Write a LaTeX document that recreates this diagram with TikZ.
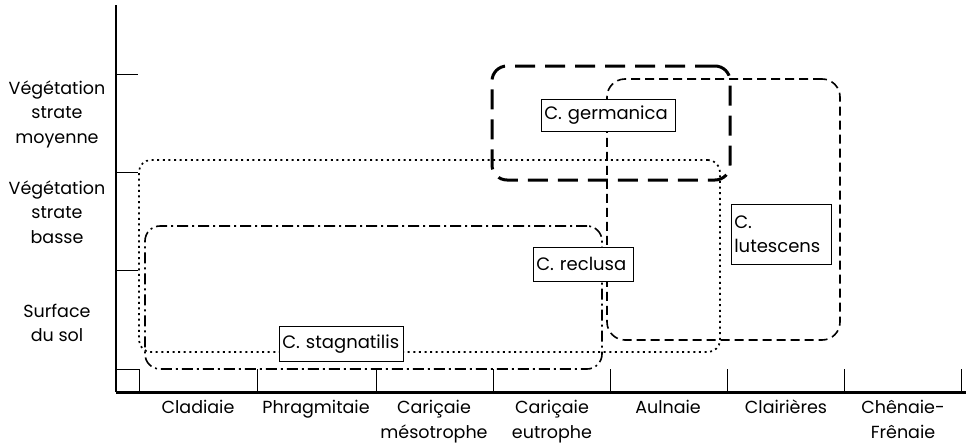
\documentclass[tikz,border=0pt]{standalone}
\usepackage{fontspec}
\setmainfont{Poppins}
\begin{document}
\begin{tikzpicture}[x=1pt,y=-1pt,
  lab/.style={font=\fontsize{17.5}{24.5}\selectfont, align=center, inner sep=0pt},
  spbox/.style={draw, fill=white, line width=0.6pt, font=\fontsize{18}{24}\selectfont, inner sep=0pt, anchor=north west},
  region/.style={draw, inner sep=0pt, fill=none},
  tickline/.style={line width=0.7pt}]
\useasboundingbox (0,0) rectangle (971,447);
% regions
\node[region, line width=1.7pt, dash pattern=on 2pt off 3.6pt, rounded corners=12pt,
  minimum width=581pt, minimum height=192pt] (stagr) at (429.5,256) {};
\node[region, line width=1.6pt, dash pattern=on 11pt off 4pt on 2pt off 4pt, rounded corners=15pt,
  minimum width=457pt, minimum height=143pt] (reclr) at (373.5,297.5) {};
\node[region, line width=1.6pt, dash pattern=on 9pt off 5pt, rounded corners=18pt,
  minimum width=233pt, minimum height=261pt] (lutr) at (723.5,209.5) {};
\node[region, line width=3pt, dash pattern=on 20pt off 10pt, rounded corners=15pt,
  minimum width=238pt, minimum height=114pt] (germr) at (611,123) {};
% axes
\coordinate (o) at (116,392);
\coordinate (ytop) at (116,5);
\coordinate (xend) at (966,392);
\draw[line width=2.6pt] (ytop) -- (o);
\draw[line width=3pt] (o) -- (xend);
% y ticks
\coordinate (t1) at (116,74); \coordinate (t1e) at (138,74);
\coordinate (t2) at (116,172); \coordinate (t2e) at (138,172);
\coordinate (t3) at (116,270); \coordinate (t3e) at (138,270);
\draw[tickline] (t1) -- (t1e) (t2) -- (t2e) (t3) -- (t3e);
\coordinate (sq1) at (116,369); \coordinate (sq2) at (139,392);
\draw[tickline] (sq1) rectangle (sq2);
% x ticks
\foreach \x [count=\i] in {257,376,493,610,727,844,961}{
  \coordinate (xa\i) at (\x,369); \coordinate (xb\i) at (\x,392);
  \draw[tickline] (xa\i) -- (xb\i);
}
% y labels
\node[lab] (ymoy) at (57,114) {Végétation\\strate\\moyenne};
\node[lab] (ybas) at (57,212) {Végétation\\strate\\basse};
\node[lab] (ysol) at (57,323) {Surface\\du sol};
% x labels
\node[lab, anchor=north] (xl1) at (198,400) {Cladiaie};
\node[lab, anchor=north] (xl2) at (316,400) {Phragmitaie};
\node[lab, anchor=north] (xl3) at (434,400) {Cariçaie\\mésotrophe};
\node[lab, anchor=north] (xl4) at (552,400) {Cariçaie\\eutrophe};
\node[lab, anchor=north] (xl5) at (668,400) {Aulnaie};
\node[lab, anchor=north] (xl6) at (786,400) {Clairières};
\node[lab, anchor=north] (xl7) at (903,400) {Chênaie-\\Frênaie};
% species labels
\node[spbox, minimum width=124pt, minimum height=35pt, text width=120pt, align=left] (stag) at (279,326) {\hspace{1pt}C. stagnatilis};
\node[spbox, minimum width=100pt, minimum height=34pt, text width=96pt, align=left] (recl) at (533,247) {\hspace{1pt}C. reclusa};
\node[spbox, minimum width=134pt, minimum height=32pt, text width=130pt, align=left] (germ) at (541,99) {\hspace{1pt}C. germanica};
\node[spbox, minimum width=100pt, minimum height=60pt, text width=96pt, align=left] (lut) at (731,204) {\hspace{1pt}C.\\\hspace{1pt}lutescens};
\end{tikzpicture}
\end{document}
